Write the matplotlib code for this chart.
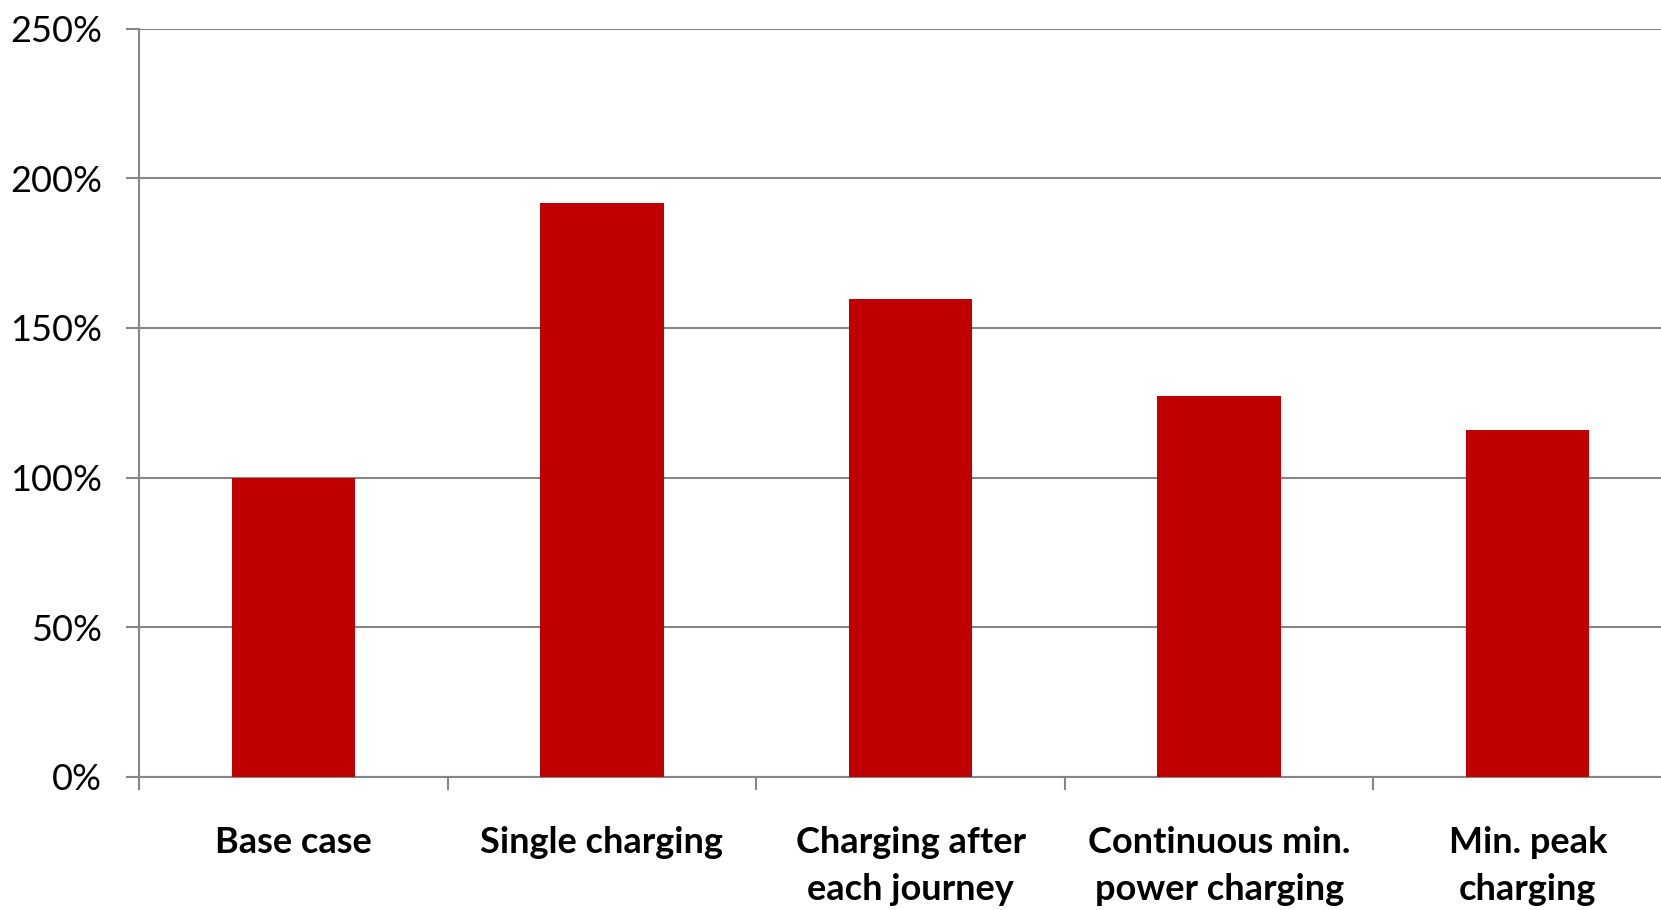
import matplotlib
matplotlib.use("Agg")
import matplotlib.pyplot as plt
from matplotlib.ticker import FixedLocator, FuncFormatter

categories = ["Base case", "Single charging", "Charging after\neach journey",
              "Continuous min.\npower charging", "Min. peak\ncharging"]
values = [100, 191.7, 159.5, 127.4, 115.9]
yticks = [0, 50, 100, 150, 200, 250]

BAR = "#C00000"
GRID = "#868686"

plt.rcParams["font.family"] = ["Lato", "DejaVu Sans"]

fig = plt.figure(figsize=(16.61, 9.10), dpi=100)
# axes extend slightly past the right edge of the canvas
left, right = 139 / 1661, 1682 / 1661
bottom, top = (910 - 777) / 910, (910 - 28.5) / 910
ax = fig.add_axes([left, bottom, right - left, top - bottom])

x = list(range(len(categories)))
ax.bar(x, values, width=0.4, color=BAR, zorder=3)

ax.set_xlim(-0.5, len(categories) - 0.5)
ax.set_ylim(0, 250)
ax.set_yticks(yticks)
ax.yaxis.set_major_formatter(FuncFormatter(lambda v, p: f"{v:.0f}%"))
ax.grid(axis="y", color=GRID, linewidth=1.5, zorder=0)

for side in ("top", "right"):
    ax.spines[side].set_visible(False)
for side in ("left", "bottom"):
    ax.spines[side].set_color(GRID)
    ax.spines[side].set_linewidth(1.5)

ax.tick_params(axis="y", length=9.5, width=1.5, color=GRID, labelsize=26,
               pad=17, labelcolor="black")

ax.set_xticks(x)
ax.set_xticklabels(categories, fontweight="bold", fontsize=26, linespacing=1.53,
                   va="top")
ax.tick_params(axis="x", which="major", length=0, pad=35)
ax.xaxis.set_minor_locator(FixedLocator([i - 0.5 for i in range(len(categories) + 1)]))
ax.tick_params(axis="x", which="minor", length=9.5, width=1.5, color=GRID)

fig.savefig("out.png", dpi=100)
